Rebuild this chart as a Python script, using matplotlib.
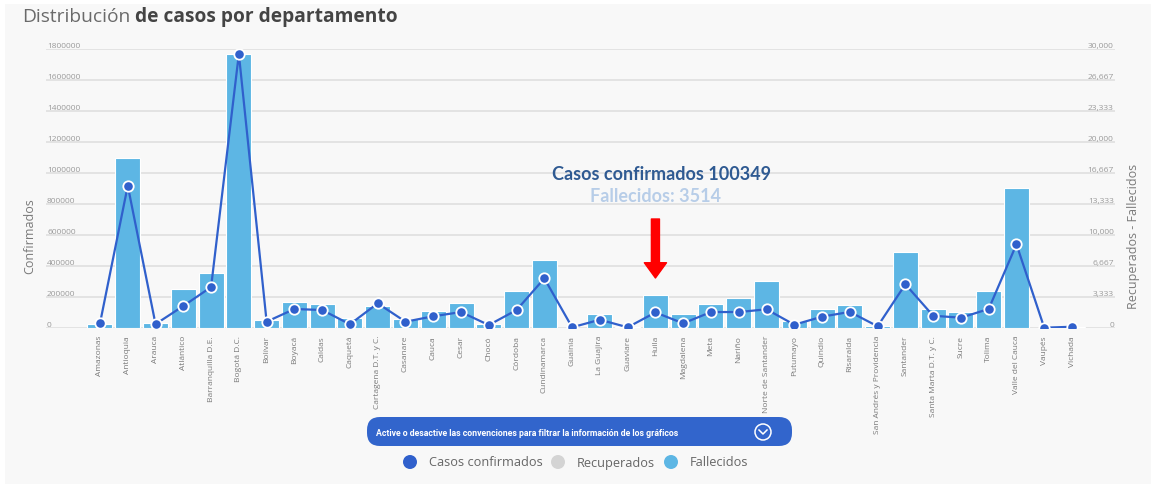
import numpy as np
import matplotlib
matplotlib.use("Agg")
from matplotlib import pyplot as plt
from matplotlib.patches import FancyBboxPatch, Circle, Rectangle
from matplotlib.lines import Line2D
from matplotlib.transforms import IdentityTransform

plt.rcParams['font.family'] = ['Open Sans', 'DejaVu Sans']

deptos = ["Amazonas", "Antioquia", "Arauca", "Atlántico", "Barranquilla D.E.", "Bogotá D.C.",
          "Bolívar", "Boyacá", "Caldas", "Caquetá", "Cartagena D.T. y C.", "Casanare",
          "Cauca", "Cesar", "Chocó", "Córdoba", "Cundinamarca", "Guainía", "La Guajira",
          "Guaviare", "Huila", "Magdalena", "Meta", "Nariño", "Norte de Santander",
          "Putumayo", "Quindío", "Risaralda", "San Andrés y Providencia", "Santander",
          "Santa Marta D.T. y C.", "Sucre", "Tolima", "Valle del Cauca", "Vaupés", "Vichada"]

confirmados = [30000, 918000, 25000, 142000, 264000, 1768000, 40600, 122600, 116000, 24000,
               159000, 40600, 75500, 103000, 19000, 116000, 320000, 4500, 53500, 4500,
               100349, 30000, 103000, 103000, 120600, 21300, 73000, 104000, 11000, 282000,
               79000, 66500, 122600, 540000, 2000, 8000]

fallecidos = [380, 18240, 560, 4190, 5910, 29450, 890, 2760, 2545, 1040,
              2350, 1000, 1830, 2655, 400, 3980, 7280, 40, 1505, 140,
              3514, 1505, 2545, 3260, 5085, 720, 2010, 2470, 180, 8140,
              2010, 1690, 3945, 15050, 20, 100]

left_ticks = [0, 200000, 400000, 600000, 800000, 1000000, 1200000, 1400000, 1600000, 1800000]
right_ticks = ["0", "3,333", "6,667", "10,000", "13,333", "16,667", "20,000", "23,333", "26,667", "30,000"]

W, H = 1151, 485
def px(x, y):
    return x / W, 1 - y / H

fig = plt.figure(figsize=(W / 100, H / 100), dpi=100, facecolor="white")
fig.patches.append(Rectangle((5, 0), W, H - 5, transform=IdentityTransform(),
                             facecolor="#f8f8f8", edgecolor="none", zorder=-5))

ax = fig.add_axes([46 / W, 1 - 329 / H, (1115 - 46) / W, (329 - 50) / H])
ax.set_facecolor("none")
x = np.arange(len(deptos))
ax.bar(x, fallecidos, width=0.9, color="#5db6e4", edgecolor="white", linewidth=0.8, zorder=2)
ax.set_ylim(0, 30000)
ax.set_xlim(-1.944, 36.548)
ax.set_yticks(np.linspace(0, 30000, 10))
ax.yaxis.grid(True, color="#e1e1e1", linewidth=1.3, zorder=0)
ax.set_axisbelow(True)
ax.tick_params(axis="y", length=0, labelleft=False)
ax.set_xticks(x)
ax.set_xticklabels(deptos, rotation=90, fontsize=6, color="#7a7a7a")
ax.tick_params(axis="x", length=0, pad=5)
for s in ax.spines.values():
    s.set_visible(False)

ax2 = ax.twinx()
ax2.set_ylim(0, 1800000)
ax2.plot(x, confirmados, color="#3060cc", linewidth=1.6, marker="o", markersize=7.5,
         markerfacecolor="#3060cc", markeredgecolor="white", markeredgewidth=1.3, zorder=3)
ax2.tick_params(axis="y", length=0, labelright=False)
for s in ax2.spines.values():
    s.set_visible(False)

for v in left_ticks:
    ax2.text(0.001, v, str(v), transform=ax2.get_yaxis_transform(), fontsize=6,
             color="#9a9a9a", ha="left", va="bottom")
for i, lab in enumerate(right_ticks):
    ax.text(0.999, np.linspace(0, 30000, 10)[i], lab, transform=ax.get_yaxis_transform(),
            fontsize=6, color="#9a9a9a", ha="right", va="bottom")

fig.text(*px(30, 236), "Confirmados", rotation=90, fontsize=9, color="#7a7a7a",
         ha="center", va="center")
fig.text(*px(1133, 236), "Recuperados - Fallecidos", rotation=90, fontsize=9,
         color="#7a7a7a", ha="center", va="center")

# annotation
fig.text(*px(662, 174), "Casos confirmados 100349", fontsize=13, fontweight="bold",
         color="#2f5a92", ha="center", va="center", family="Lato")
fig.text(*px(656, 197), "Fallecidos: 3514", fontsize=13, fontweight="bold",
         color="#b7cde8", ha="center", va="center", family="Lato")
ax2.annotate("", xy=(20, (329 - 279) / 279 * 1800000), xytext=(20, (329 - 220) / 279 * 1800000),
             arrowprops=dict(arrowstyle="simple,head_width=16,head_length=11,tail_width=5.8",
                             mutation_scale=1, color="#ff0000", shrinkA=0, shrinkB=0), zorder=5)

# title
t1 = fig.text(*px(22, 17), "Distribución", fontsize=13.8, color="#6a6a6a", ha="left", va="center")
fig.canvas.draw()
bb = t1.get_window_extent()
fig.text((bb.x1 + 5) / W, 1 - 17 / H, "de casos por departamento", fontsize=13.8,
         fontweight="bold", color="#444444", ha="left", va="center")

# button
fig.patches.append(FancyBboxPatch((367, 485 - 447), 425, 29,
                                  boxstyle="round,pad=0,rounding_size=13",
                                  transform=IdentityTransform(),
                                  facecolor="#3265cc", edgecolor="none", zorder=1))
fig.text(*px(376, 433), "Active o desactive las convenciones para filtrar la información de los gráficos",
         fontsize=6.3, fontweight="bold", color="white", ha="left", va="center", family="Roboto")
fig.patches.append(Circle((763, 485 - 433), 8, transform=IdentityTransform(),
                          facecolor="none", edgecolor="white", linewidth=1.1, zorder=2))
fig.lines.append(Line2D([759, 763, 767], [485 - 431, 485 - 435, 485 - 431],
                        transform=IdentityTransform(), color="white", linewidth=1.1))

# legend
legend_items = [("Casos confirmados", "#3060cc", 410), ("Recuperados", "#d4d4d4", 558),
                ("Fallecidos", "#5db6e4", 671)]
for lab, col, cx in legend_items:
    fig.patches.append(Circle((cx, 485 - 463), 7, transform=IdentityTransform(),
                              facecolor=col, edgecolor="none", zorder=2))
    fig.text(*px(cx + 19, 463), lab, fontsize=9.2, color="#666666", ha="left", va="center")

fig.savefig("out.png", dpi=100, facecolor="white")
